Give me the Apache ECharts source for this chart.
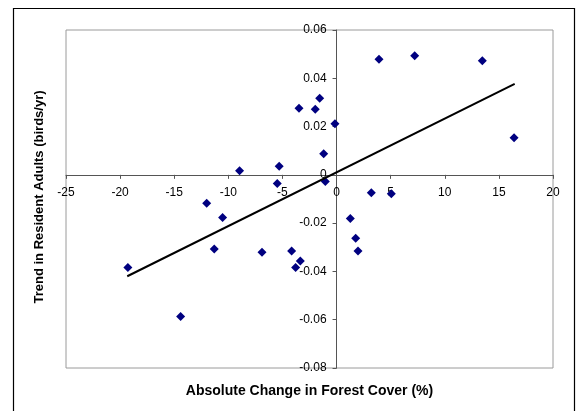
<!DOCTYPE html>
<html>
<head>
<meta charset="utf-8">
<script src="https://cdn.jsdelivr.net/npm/echarts@6/dist/echarts.min.js"></script>
<style>
  html, body { margin: 0; padding: 0; background: #fff; }
  #chart { width: 576px; height: 411px; }
</style>
</head>
<body>
<div id="chart"></div>
<script>
// Absolute change in forest cover (%) for each site
var forestChange = [
  -1.56, -3.47, -1.97, -0.15, -1.19, -5.30, -5.48, -1.04,
  -8.96, -12.0, -10.53, -11.3, -6.89,
  -19.28, -14.41,
  -4.15, -3.35, -3.78,
  1.27, 1.77, 1.98, 3.21, 5.06,
  3.92, 7.22, 13.47, 16.40
];
// Trend in resident adults (birds/yr) for the same sites
var adultTrend = [
  0.0317, 0.0276, 0.0272, 0.0212, 0.0087, 0.0036, -0.0036, -0.0028,
  0.0017, -0.0118, -0.0177, -0.0307, -0.0321,
  -0.0384, -0.0587,
  -0.0315, -0.0357, -0.0384,
  -0.0181, -0.0263, -0.0315, -0.0074, -0.0078,
  0.0479, 0.0493, 0.0473, 0.0154
];
// Linear trendline end points
var trendX = [-19.34, 16.46];
var trendY = [-0.0420, 0.0377];

// Axis ranges and tick spacing
var xTicks = { min: -25, max: 20, step: 5 };
var yTicks = { min: -0.08, max: 0.06, step: 0.02 };

// Axis titles
var xTitle = 'Absolute Change in Forest Cover (%)';
var yTitle = 'Trend in Resident Adults (birds/yr)';

var points = forestChange.map(function (x, i) { return [x, adultTrend[i]]; });
var trend = trendX.map(function (x, i) { return [x, trendY[i]]; });

var font = '"Liberation Sans", Arial, sans-serif';
var axisGrey = '#555555';
var gridBox = { left: 66, right: 23, top: 30, bottom: 43 };

var chart = echarts.init(document.getElementById('chart'), null, { renderer: 'canvas' });
chart.setOption({
  backgroundColor: '#ffffff',
  animation: false,
  grid: {
    left: gridBox.left, right: gridBox.right, top: gridBox.top, bottom: gridBox.bottom,
    containLabel: false,
    outerBoundsMode: 'none',
    show: true, borderColor: '#9a9a9a', borderWidth: 1, backgroundColor: '#ffffff'
  },
  graphic: [
    {
      type: 'rect',
      shape: { x: 13.5, y: 8.5, width: 561, height: 420 },
      style: { fill: 'none', stroke: '#000', lineWidth: 1.2 },
      silent: true, z: -1
    },
    {
      type: 'text',
      x: 309.5, y: 391,
      style: {
        text: xTitle, fontFamily: font, fontWeight: 'bold', fontSize: 14,
        fill: '#000', align: 'center', verticalAlign: 'middle'
      },
      silent: true
    },
    {
      type: 'text',
      x: 39, y: 197,
      rotation: Math.PI / 2,
      style: {
        text: yTitle, fontFamily: font, fontWeight: 'bold', fontSize: 13,
        fill: '#000', align: 'center', verticalAlign: 'middle'
      },
      silent: true
    }
  ],
  xAxis: {
    type: 'value',
    position: 'bottom',
    min: xTicks.min, max: xTicks.max, interval: xTicks.step,
    axisLine: { onZero: false, lineStyle: { color: axisGrey, width: 1 } },
    axisTick: { show: true, inside: false, length: 4, lineStyle: { color: axisGrey } },
    axisLabel: { fontFamily: font, fontSize: 12, color: '#000', margin: 12 },
    splitLine: { show: false }
  },
  yAxis: {
    type: 'value',
    position: 'left',
    min: yTicks.min, max: yTicks.max, interval: yTicks.step,
    axisLine: { onZero: false, lineStyle: { color: axisGrey, width: 1 } },
    axisTick: { show: true, inside: false, length: 4, lineStyle: { color: axisGrey } },
    axisLabel: {
      fontFamily: font, fontSize: 12, color: '#000', margin: 10,
      formatter: function (v) { return String(+v.toFixed(2)); }
    },
    splitLine: { show: false }
  },
  series: [
    {
      type: 'scatter',
      data: points,
      symbol: 'diamond',
      symbolSize: [9, 9],
      itemStyle: { color: '#000080', opacity: 1 },
      z: 3
    },
    {
      type: 'line',
      data: trend,
      showSymbol: false,
      symbol: 'none',
      lineStyle: { color: '#000', width: 2 },
      z: 4
    }
  ]
});

// Move both axes so they cross at the data origin (0, 0)
var origin = chart.convertToPixel({ gridIndex: 0 }, [0, 0]);
var chartH = chart.getHeight();
chart.setOption({
  xAxis: { offset: origin[1] - (chartH - gridBox.bottom) },
  yAxis: { offset: gridBox.left - origin[0] }
});
</script>
</body>
</html>
